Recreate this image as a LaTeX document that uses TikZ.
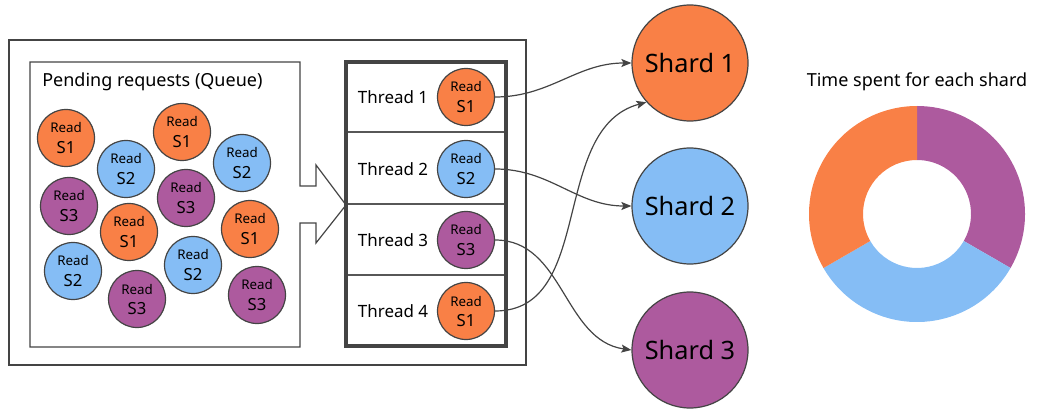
\documentclass[tikz,border=0pt]{standalone}
\usepackage{fontspec}
\setmainfont{Noto Sans}
\usetikzlibrary{arrows.meta,calc}
\definecolor{cOr}{HTML}{F98046}
\definecolor{cBl}{HTML}{85BDF5}
\definecolor{cPu}{HTML}{AD5A9E}
\definecolor{cLn}{HTML}{444444}
\newcommand{\reqnode}[5]{%
  \node[reqc, fill=#4] (#1) at (#2,#3) {};
  \node[readtxt] at ($(#1.center)+(0,-10)$) {Read};
  \node[stxt] at ($(#1.center)+(0,10)$) {#5};
}
\begin{document}
\begin{tikzpicture}[x=0.75pt,y=-0.75pt,
  reqc/.style={circle, draw=cLn, line width=0.9pt, minimum size=42.75pt, inner sep=0pt},
  readtxt/.style={inner sep=0pt, font=\fontsize{10}{12}\selectfont},
  stxt/.style={inner sep=0pt, font=\fontsize{12.5}{15}\selectfont},
  shard/.style={circle, draw=cLn, line width=0.9pt, minimum size=87pt, inner sep=0pt, font=\fontsize{19}{22}\selectfont},
  lbl/.style={inner sep=0pt, font=\fontsize{12.7}{15}\selectfont},
  ttlbl/.style={inner sep=0pt, font=\fontsize{13.5}{16}\selectfont},
  conn/.style={cLn, line width=0.9pt, -{Stealth[length=7.5pt,width=6pt,inset=1.5pt]}},
  frame/.style={cLn, line width=0.9pt}
]
\useasboundingbox (0,0) rectangle (1044,416);
% outer box
\draw[frame] (9,40) rectangle (526,365);
% queue box with arrow
\draw[frame] (300,186) -- (300,62) -- (30,62) -- (30,347) -- (300,347) -- (300,223)
  -- (316,223) -- (316,243) -- (346,205) -- (316,165) -- (316,186) -- cycle;
\node[ttlbl, anchor=west] (qlabel) at (42,82) {Pending requests (Queue)};
% queue requests
\reqnode{q1}{66}{138}{cOr}{S1}
\reqnode{q2}{126}{169}{cBl}{S2}
\reqnode{q3}{182}{132}{cOr}{S1}
\reqnode{q4}{242}{163}{cBl}{S2}
\reqnode{q5}{69}{206}{cPu}{S3}
\reqnode{q6}{186}{198}{cPu}{S3}
\reqnode{q7}{129}{232}{cOr}{S1}
\reqnode{q8}{250}{229}{cOr}{S1}
\reqnode{q9}{73}{271}{cBl}{S2}
\reqnode{q10}{193}{265}{cBl}{S2}
\reqnode{q11}{137}{299}{cPu}{S3}
\reqnode{q12}{257}{295}{cPu}{S3}
% thread box
\draw[cLn!90, line width=1.1pt] (346,132) -- (506,132);
\draw[cLn!90, line width=1.1pt] (346,204) -- (506,204);
\draw[cLn!90, line width=1.1pt] (346,275) -- (506,275);
\draw[cLn, line width=3pt] (346,62) rectangle (506,346);
\node[lbl] (th1) at (393,97) {Thread 1};
\node[lbl] (th2) at (393,169) {Thread 2};
\node[lbl] (th3) at (393,240) {Thread 3};
\node[lbl] (th4) at (393,311) {Thread 4};
\reqnode{t1}{466}{97}{cOr}{S1}
\reqnode{t2}{466}{169}{cBl}{S2}
\reqnode{t3}{466}{240}{cPu}{S3}
\reqnode{t4}{466}{311}{cOr}{S1}
% shards
\node[shard, fill=cOr] (s1) at (690,63) {Shard 1};
\node[shard, fill=cBl] (s2) at (690,206) {Shard 2};
\node[shard, fill=cPu] (s3) at (690,350) {Shard 3};
% connectors
\draw[conn] (t1.east) to[out=0,in=180] (s1.west);
\draw[conn] (t2.east) to[out=0,in=180] (s2.west);
\draw[conn] (t3.east) to[out=0,in=172] (s3.west);
\draw[conn] (t4.east) to[out=0,in=195] (s1.222);
% donut
\node[ttlbl] (ttl) at (917,82) {Time spent for each shard};
\coordinate (c) at (917,214);
\fill[cPu] ($(c)+(-90:108)$) arc[start angle=-90,end angle=30,radius=108]
  -- ($(c)+(30:54)$) arc[start angle=30,end angle=-90,radius=54] -- cycle;
\fill[cBl] ($(c)+(30:108)$) arc[start angle=30,end angle=150,radius=108]
  -- ($(c)+(150:54)$) arc[start angle=150,end angle=30,radius=54] -- cycle;
\fill[cOr] ($(c)+(150:108)$) arc[start angle=150,end angle=270,radius=108]
  -- ($(c)+(270:54)$) arc[start angle=270,end angle=150,radius=54] -- cycle;
\end{tikzpicture}
\end{document}
